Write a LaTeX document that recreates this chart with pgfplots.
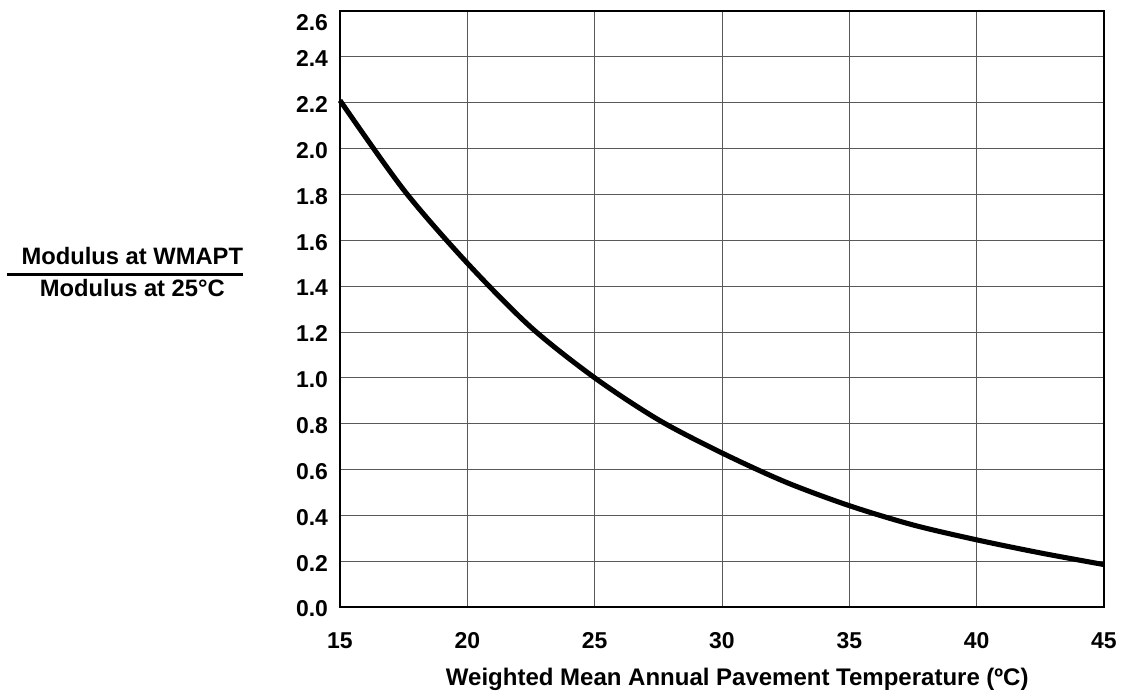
\documentclass[border=0pt]{standalone}
\usepackage{pgfplots}
\pgfplotsset{compat=1.18}
\usepackage{fontspec}
\setmainfont{Liberation Sans}

\begin{document}
\begin{tikzpicture}[x=0.75pt,y=0.75pt]
% fixed page frame
\useasboundingbox (-340,-86) rectangle (782,607);
\begin{axis}[
  at={(0,0)}, anchor=south west,
  scale only axis,
  width=573pt, height=447pt,
  xmin=15, xmax=45, ymin=0, ymax=2.6,
  xtick={15,20,...,45},
  ytick={0,0.2,0.4,0.6,0.8,1.0,1.2,1.4,1.6,1.8,2.0,2.2,2.4,2.6},
  yticklabels={0.0,0.2,0.4,0.6,0.8,1.0,1.2,1.4,1.6,1.8,2.0,2.2,2.4,
    {\raisebox{-7.5pt}[\height][\depth]{2.6}}},
  /pgf/number format/assume math mode=true,
  grid=major,
  major grid style={black!65, line width=0.6pt},
  major tick length=0pt,
  axis line style={line width=1.9pt},
  tick label style={font=\fontsize{17.2}{19}\selectfont\bfseries},
  x tick label style={yshift=-15.5pt},
  y tick label style={xshift=-5.5pt, yshift=-1.5pt},
  clip=false,
]
\addplot[black, line width=3.8pt, smooth, tension=0.5, line cap=butt] coordinates {
  (15,2.21) (17.5,1.82) (20,1.50) (22.5,1.22) (25,1.00) (27.5,0.817)
  (30,0.672) (32.5,0.545) (35,0.442) (37.5,0.358) (40,0.293)
  (42.5,0.236) (45,0.185)
};
\node[font=\fontsize{18}{20}\selectfont\bfseries]
  at (rel axis cs:0.520,-0.121)
  {Weighted Mean Annual Pavement Temperature (ºC)};
\node[font=\fontsize{17.8}{19}\selectfont\bfseries, inner sep=0pt]
  at (rel axis cs:-0.2814,0.558)
  {\setlength{\arrayrulewidth}{1.8pt}\renewcommand{\arraystretch}{1.15}%
   \begin{tabular}{@{\hskip 11pt}c@{}}Modulus at WMAPT\\\hline Modulus at 25°C\end{tabular}};
\end{axis}
\end{tikzpicture}
\end{document}
